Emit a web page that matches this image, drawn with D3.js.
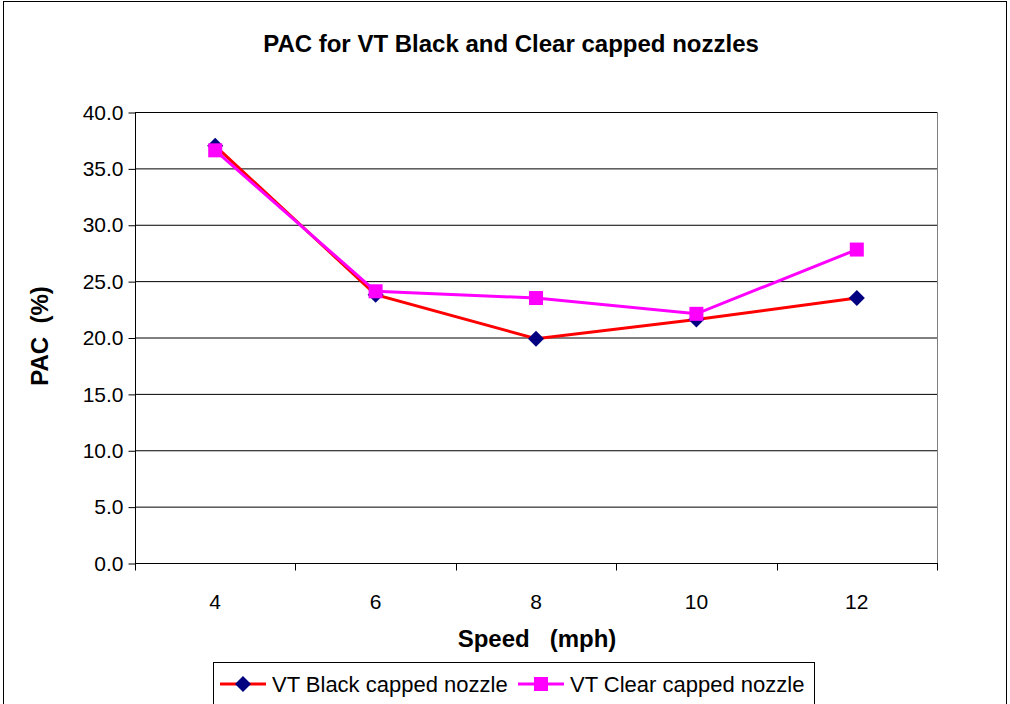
<!DOCTYPE html>
<html>
<head>
<meta charset="utf-8">
<script src="https://cdn.jsdelivr.net/npm/d3@7"></script>
<style>
  html, body { margin: 0; padding: 0; background: #fff; }
  svg { display: block; font-family: "Liberation Sans", Arial, sans-serif; }
</style>
</head>
<body>
<svg id="chart" width="1010" height="704"></svg>
<script>
// Speeds tested (mph) and percent area coverage for each nozzle type
const speeds = ["4", "6", "8", "10", "12"];
const blackValues = [37.0, 23.8, 19.9, 21.6, 23.5];
const clearValues = [36.6, 24.1, 23.5, 22.1, 27.8];
const yTicks = [0, 5, 10, 15, 20, 25, 30, 35, 40];
const seriesNames = ["VT Black capped nozzle", "VT Clear capped nozzle"];

const svg = d3.select("#chart");
const W = 1010, H = 704;
const plot = { left: 135, right: 937, top: 112, bottom: 563 };

// Outer chart frame
svg.append("rect")
  .attr("x", 3.5).attr("y", 1.5)
  .attr("width", W - 7).attr("height", H + 10)
  .attr("fill", "#fff").attr("stroke", "#000").attr("stroke-width", 1);

const x = d3.scaleBand().domain(speeds).range([plot.left, plot.right]);
const y = d3.scaleLinear().domain([0, 40]).range([plot.bottom, plot.top]);

// Horizontal gridlines
svg.append("g").selectAll("line").data(yTicks.filter(d => d > 0)).join("line")
  .attr("x1", plot.left).attr("x2", plot.right)
  .attr("y1", d => y(d) + 0.5).attr("y2", d => y(d) + 0.5)
  .attr("stroke", "#000").attr("stroke-width", 1);

// Right border of the plot area
svg.append("line")
  .attr("x1", plot.right + 0.5).attr("x2", plot.right + 0.5)
  .attr("y1", plot.top).attr("y2", plot.bottom)
  .attr("stroke", "#808080");

// Y axis
const yAxis = d3.axisLeft(y).tickValues(yTicks).tickFormat(d3.format(".1f")).tickSize(7).tickPadding(5);
const gy = svg.append("g").attr("transform", `translate(${plot.left + 0.5},0.5)`).call(yAxis);
gy.select(".domain").attr("stroke", "#000").attr("d", `M0,${plot.top}V${plot.bottom}`);
gy.selectAll(".tick line").attr("stroke", "#000");
gy.selectAll(".tick text").attr("font-size", 21).attr("fill", "#000")
  .attr("font-family", "Liberation Sans, Arial, sans-serif");

// X axis with ticks on category boundaries
const gx = svg.append("g").attr("transform", `translate(0,${plot.bottom + 0.5})`);
gx.append("line").attr("x1", plot.left).attr("x2", plot.right + 1)
  .attr("y1", 0).attr("y2", 0).attr("stroke", "#000");
const bounds = speeds.map(s => x(s)).concat([plot.right]);
gx.selectAll(".b").data(bounds).join("line")
  .attr("x1", d => Math.round(d) + 0.5).attr("x2", d => Math.round(d) + 0.5)
  .attr("y1", 0).attr("y2", 7).attr("stroke", "#000");
gx.selectAll("text").data(speeds).join("text")
  .attr("x", d => x(d) + x.bandwidth() / 2).attr("y", 45)
  .attr("text-anchor", "middle").attr("font-size", 21).text(d => d);

const cx = d => x(d) + x.bandwidth() / 2;

// Series lines
const line = d3.line().x((d, i) => cx(speeds[i])).y(d => y(d));
svg.append("path").datum(blackValues).attr("d", line)
  .attr("fill", "none").attr("stroke", "#ff0000").attr("stroke-width", 3);
svg.append("path").datum(clearValues).attr("d", line)
  .attr("fill", "none").attr("stroke", "#ff00ff").attr("stroke-width", 3);

const diamond = (g, px, py) => g.append("path")
  .attr("d", `M${px},${py - 8}L${px + 8},${py}L${px},${py + 8}L${px - 8},${py}Z`)
  .attr("fill", "#000080");
const square = (g, px, py) => g.append("rect")
  .attr("x", px - 7).attr("y", py - 7).attr("width", 14).attr("height", 14)
  .attr("fill", "#ff00ff");

const marks = svg.append("g");
blackValues.forEach((v, i) => diamond(marks, cx(speeds[i]), y(v)));
clearValues.forEach((v, i) => square(marks, cx(speeds[i]), y(v)));

// Title and axis titles
svg.append("text").attr("x", 511).attr("y", 52).attr("text-anchor", "middle")
  .attr("font-size", 24).attr("font-weight", "bold").text("PAC for VT Black and Clear capped nozzles");
svg.append("text").attr("x", 537).attr("y", 647).attr("text-anchor", "middle")
  .attr("font-size", 24).attr("font-weight", "bold").attr("xml:space", "preserve")
  .text("Speed   (mph)");
svg.append("text").attr("transform", "translate(48,336) rotate(-90)").attr("text-anchor", "middle")
  .attr("font-size", 24).attr("font-weight", "bold").attr("xml:space", "preserve")
  .text("PAC  (%)");

// Legend
const lg = svg.append("g");
lg.append("rect").attr("x", 213.5).attr("y", 662.5).attr("width", 601).attr("height", 50)
  .attr("fill", "#fff").attr("stroke", "#000");
const ly = 684;
lg.append("line").attr("x1", 220).attr("x2", 266).attr("y1", ly).attr("y2", ly)
  .attr("stroke", "#ff0000").attr("stroke-width", 3);
diamond(lg, 243, ly);
lg.append("text").attr("x", 272).attr("y", ly + 8).attr("font-size", 22).text(seriesNames[0]);
lg.append("line").attr("x1", 518).attr("x2", 564).attr("y1", ly).attr("y2", ly)
  .attr("stroke", "#ff00ff").attr("stroke-width", 3);
square(lg, 541, ly);
lg.append("text").attr("x", 570).attr("y", ly + 8).attr("font-size", 22).text(seriesNames[1]);
</script>
</body>
</html>
